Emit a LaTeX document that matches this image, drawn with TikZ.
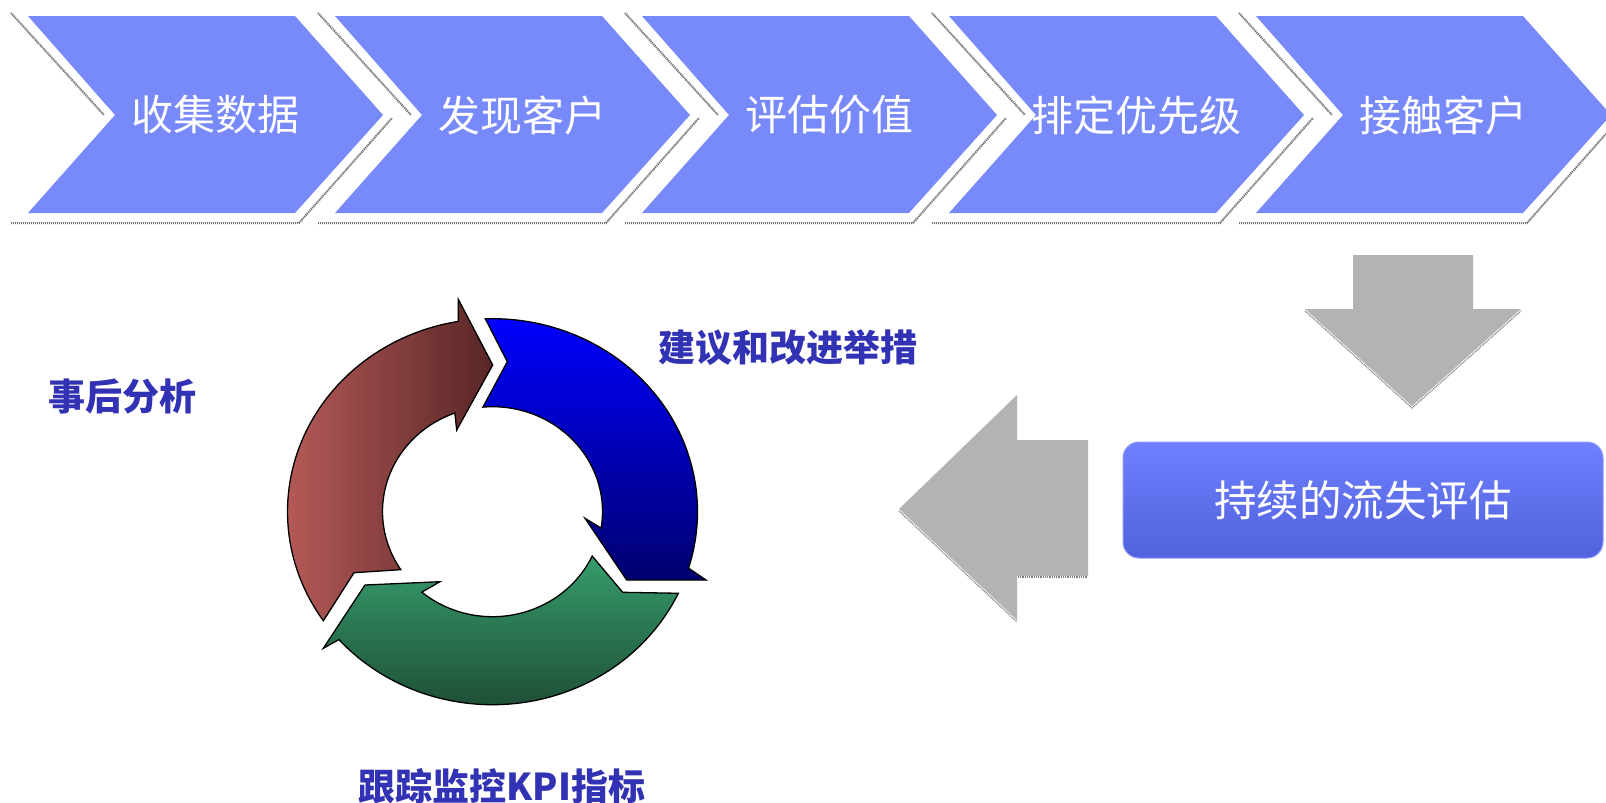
\documentclass[tikz,border=0pt]{standalone}
\usepackage{fontspec}
\newfontfamily\cjk{Noto Sans CJK SC}
\definecolor{chev}{RGB}{120,137,250}
\definecolor{lbl}{RGB}{50,50,180}
\definecolor{garrow}{RGB}{179,179,179}
\definecolor{redL}{RGB}{185,92,90}
\definecolor{redR}{RGB}{88,38,38}
\definecolor{bluT}{RGB}{0,0,255}
\definecolor{bluB}{RGB}{0,0,110}
\definecolor{grnT}{RGB}{54,156,108}
\definecolor{grnB}{RGB}{30,78,54}
\definecolor{boxT}{RGB}{110,128,255}
\definecolor{boxB}{RGB}{82,97,220}
\tikzset{
  chevshape/.style={fill=chev, draw=none},
  chevshadow/.style={draw=black!55, line width=2pt, dash pattern=on 1.2pt off 0.8pt},
  chevtext/.style={text=white, font=\cjk\fontsize{42}{42}\selectfont, inner sep=0pt},
  ringarrow/.style={draw=black, line width=1.3pt, line join=miter},
  grayarrow/.style={fill=garrow, draw=none},
  grayshadow/.style={draw=black!50, line width=1.2pt, dash pattern=on 1pt off 0.8pt},
  lbltext/.style={text=lbl, font=\cjk\bfseries\fontsize{37}{37}\selectfont, inner sep=0pt},
  evalbox/.style={rounded corners=16pt, top color=boxT, bottom color=boxB, draw=boxT!80!white, line width=1pt,
     minimum width=480pt, minimum height=116pt, text=white, font=\cjk\fontsize{42.5}{42.5}\selectfont}
}
\begin{document}
\begin{tikzpicture}[x=1pt,y=1pt]
\useasboundingbox (0,0) rectangle (1606,-803);
\fill[white] (0,0) rectangle (1606,-803);

% chevrons
\foreach \i/\t in {0/收集数据,1/发现客户,2/评估价值,3/排定优先级,4/接触客户}{
  \pgfmathsetmacro\ox{307*\i}
  \draw[chevshadow] (11+\ox,-13) -- (104+\ox,-115);
  \draw[chevshadow] (11+\ox,-223) -- (299+\ox,-223) -- (392+\ox,-118);
  \path[chevshape] (28+\ox,-16) -- (295+\ox,-16) -- (383+\ox,-115) -- (295+\ox,-213) -- (28+\ox,-213) -- (115+\ox,-115) -- cycle;
  \node[chevtext] (c\i) at (215+\ox,-115) {\t};
}

% gray down arrow
\path[grayarrow] (1353,-255) -- (1473,-255) -- (1473,-309) -- (1521,-309) -- (1412,-406) -- (1305,-309) -- (1353,-309) -- cycle;
\draw[grayshadow] (1305,-311) -- (1412,-408) -- (1521,-311);
% gray left arrow
\path[grayarrow] (899,-509) -- (1017,-395) -- (1017,-440) -- (1088,-440) -- (1088,-576) -- (1017,-576) -- (1017,-620) -- cycle;
\draw[grayshadow] (899,-511) -- (1017,-622);
\draw[grayshadow] (1018,-577) -- (1088,-577);

% evaluation box
\node[evalbox] (eval) at (1363,-500) {持续的流失评估};

% ring of arrows
\begin{scope}[shift={(492.5,-511.7)}]
  \path[ringarrow, left color=redL, right color=redR]
    (214.4:205 and 193) arc[start angle=214.4, end angle=99.6, x radius=205, y radius=193]
    -- (-34.2,212.4) -- (0.2,146.7) -- (-35.8,81.7)
    -- (110:110 and 105) arc[start angle=110, end angle=213.5, x radius=110, y radius=105]
    -- (-138.5,-61) -- cycle;
  \path[ringarrow, top color=bluT, bottom color=bluB]
    (92:205 and 193) arc[start angle=92, end angle=-17, x radius=205, y radius=193]
    -- (213.5,-68.3) -- (134.2,-68.3) -- (92.5,-6.6)
    -- (-9:110 and 105) arc[start angle=-9, end angle=95, x radius=110, y radius=105]
    -- (14.8,150) -- cycle;
  \path[ringarrow, top color=grnT, bottom color=grnB]
    (-25:205 and 193) arc[start angle=-25, end angle=-138.5, x radius=205, y radius=193]
    -- (-169.2,-136.6) -- (-127.5,-73.3) -- (-52.5,-70)
    -- (-130:110 and 105) arc[start angle=-130, end angle=-25, x radius=110, y radius=105]
    -- (130.2,-80.6) -- cycle;
\end{scope}

% labels
\node[lbltext] (post) at (122,-396) {事后分析};
\node[lbltext] (advice) at (788,-348) {建议和改进举措};
\node[lbltext] (kpi) at (502,-786) {跟踪监控KPI指标};
\end{tikzpicture}
\end{document}
